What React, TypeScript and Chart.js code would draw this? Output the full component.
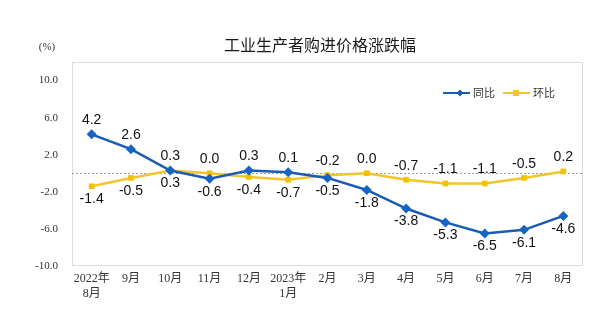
import React, { useEffect, useRef } from "react";
import { Chart, registerables } from "chart.js";

Chart.register(...registerables);

const categories: (string | string[])[] = [
  ["2022年", "8月"], "9月", "10月", "11月", "12月", ["2023年", "1月"],
  "2月", "3月", "4月", "5月", "6月", "7月", "8月",
];
const yoyValues = [4.2, 2.6, 0.3, -0.6, 0.3, 0.1, -0.5, -1.8, -3.8, -5.3, -6.5, -6.1, -4.6];
const momValues = [-1.4, -0.5, 0.3, 0.0, -0.4, -0.7, -0.2, 0.0, -0.7, -1.1, -1.1, -0.5, 0.2];
const yTicks = [-10, -6, -2, 2, 6, 10];
const seriesNames = ["同比", "环比"];
const titleText = "工业生产者购进价格涨跌幅";
const unitText = "(%)";

const BLUE = "#1a5cb4";
const YELLOW = "#f2c62a";
const CJK = "'Noto Sans CJK SC', sans-serif";

const decorPlugin = {
  id: "decor",
  beforeDatasetsDraw(chart: any) {
    const { ctx, chartArea } = chart;
    const y = chart.scales.y;
    ctx.save();
    ctx.strokeStyle = "#b8b8b8";
    ctx.lineWidth = 1;
    ctx.setLineDash([1, 1]);
    ctx.strokeRect(chartArea.left + 0.5, chartArea.top + 0.5, chartArea.right - chartArea.left - 1, chartArea.bottom - chartArea.top - 1);
    const zy = Math.round(y.getPixelForValue(0)) + 0.5;
    ctx.strokeStyle = "#a0a0a0";
    ctx.setLineDash([2, 2]);
    ctx.beginPath();
    ctx.moveTo(chartArea.left, zy);
    ctx.lineTo(chartArea.right, zy);
    ctx.stroke();
    ctx.restore();
  },
  afterDatasetsDraw(chart: any) {
    const { ctx } = chart;
    ctx.save();
    const m0 = chart.getDatasetMeta(0);
    const m1 = chart.getDatasetMeta(1);
    ctx.font = "14px 'Liberation Sans', Arial, sans-serif";
    ctx.fillStyle = "#111";
    ctx.textAlign = "center";
    ctx.textBaseline = "middle";
    for (let i = 0; i < yoyValues.length; i++) {
      const a = yoyValues[i];
      const b = momValues[i];
      const pa = m0.data[i];
      const pb = m1.data[i];
      const yoyAbove = a >= b;
      ctx.fillText(a.toFixed(1), pa.x, yoyAbove ? pa.y - 14 : pa.y + 13);
      ctx.fillText(b.toFixed(1), pb.x, yoyAbove ? pb.y + 13 : pb.y - 14);
    }
    ctx.font = "16px " + CJK;
    ctx.fillStyle = "#1a1a1a";
    ctx.fillText(titleText, 320, 45);
    ctx.font = "11px 'Liberation Serif', serif";
    ctx.fillStyle = "#333";
    ctx.fillText(unitText, 47, 47);
    const ly = 93;
    ctx.lineWidth = 2;
    ctx.strokeStyle = BLUE;
    ctx.beginPath();
    ctx.moveTo(443, ly);
    ctx.lineTo(470, ly);
    ctx.stroke();
    ctx.fillStyle = BLUE;
    ctx.beginPath();
    ctx.moveTo(460, ly - 3.5);
    ctx.lineTo(463.5, ly);
    ctx.lineTo(460, ly + 3.5);
    ctx.lineTo(456.5, ly);
    ctx.closePath();
    ctx.fill();
    ctx.strokeStyle = YELLOW;
    ctx.beginPath();
    ctx.moveTo(503, ly);
    ctx.lineTo(530, ly);
    ctx.stroke();
    ctx.fillStyle = YELLOW;
    ctx.fillRect(513, ly - 3, 6, 6);
    ctx.font = "11px " + CJK;
    ctx.fillStyle = "#333";
    ctx.textAlign = "left";
    ctx.fillText(seriesNames[0], 473, ly);
    ctx.fillText(seriesNames[1], 533, ly);
    ctx.restore();
  },
};

export default function App() {
  const ref = useRef<HTMLCanvasElement>(null);
  useEffect(() => {
    document.body.style.margin = "0";
    const chart = new Chart(ref.current!, {
      type: "line",
      data: {
        labels: categories,
        datasets: [
          {
            label: seriesNames[0],
            data: yoyValues,
            borderColor: BLUE,
            backgroundColor: BLUE,
            borderWidth: 2.5,
            pointStyle: "rectRot",
            pointRadius: 5,
            pointBorderWidth: 0,
            pointBackgroundColor: "#1565c6",
            tension: 0,
          },
          {
            label: seriesNames[1],
            data: momValues,
            borderColor: YELLOW,
            backgroundColor: YELLOW,
            borderWidth: 2.5,
            pointStyle: "rect",
            pointRadius: 4,
            pointBorderWidth: 0,
            pointBackgroundColor: "#f2c200",
            tension: 0,
          },
        ],
      },
      options: {
        responsive: false,
        animation: false,
        layout: { padding: { left: 0, top: 62, right: 32, bottom: 0 } },
        plugins: {
          legend: { display: false },
          tooltip: { enabled: false },
          title: { display: false },
        },
        scales: {
          x: {
            offset: true,
            grid: { display: false, drawTicks: false },
            border: { display: false },
            ticks: {
              color: "#333",
              font: { family: "'Liberation Serif', 'Noto Sans CJK SC', serif", size: 12, lineHeight: 1.25 },
              padding: 5,
              maxRotation: 0,
              autoSkip: false,
            },
            afterFit: (s: any) => { s.height = 55; },
          },
          y: {
            min: -10,
            max: 12,
            grid: { display: false, drawTicks: false },
            border: { display: false },
            afterBuildTicks: (s: any) => { s.ticks = yTicks.map((v) => ({ value: v })); },
            ticks: {
              color: "#333",
              font: { family: "'Liberation Serif', serif", size: 11 },
              padding: 14,
              callback: (v: any) => Number(v).toFixed(1),
            },
            afterFit: (s: any) => { s.width = 72; },
          },
        },
      },
      plugins: [decorPlugin],
    });
    return () => chart.destroy();
  }, []);
  return (
    <div style={{ width: 615, height: 321, background: "#fff" }}>
      <canvas ref={ref} width={615} height={321} />
    </div>
  );
}
